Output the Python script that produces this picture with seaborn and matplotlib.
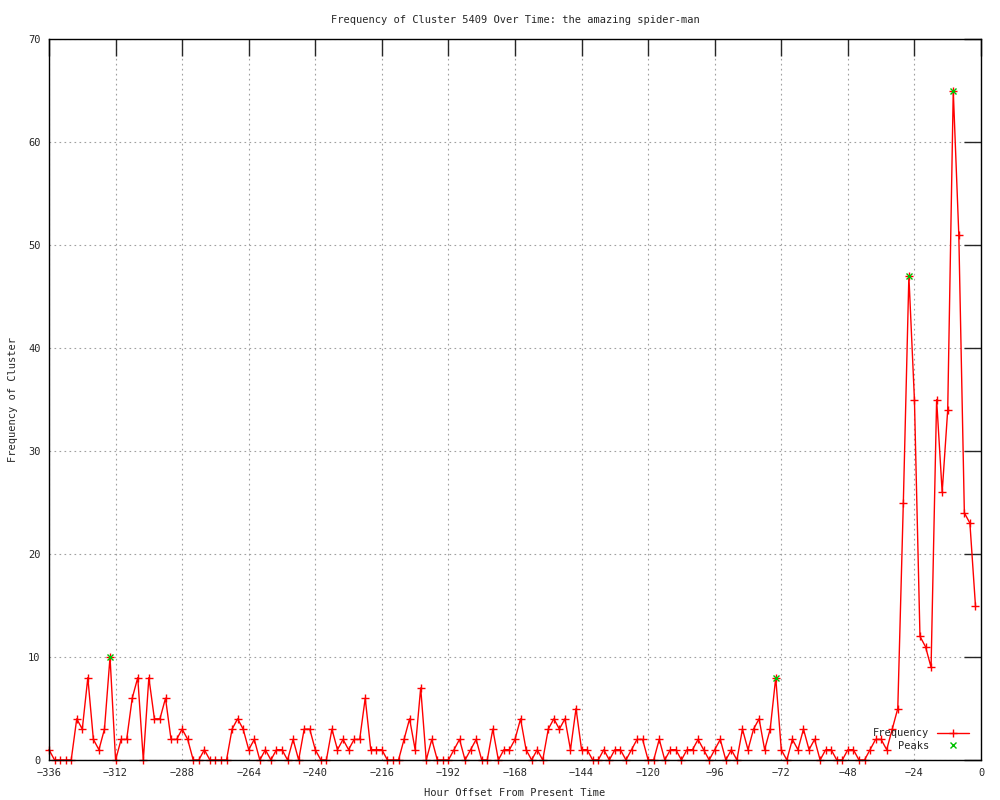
import matplotlib
matplotlib.use("Agg")
import matplotlib.pyplot as plt
import seaborn as sns
import pandas as pd

# -------------------------------------------------------------------------
# Дані: частота кластера по годинах (крок 2 години)
# -------------------------------------------------------------------------
hours = list(range(-336, 0, 2))
freq = [1, 0, 0, 0, 0, 4, 3, 8, 2, 1, 3, 10, 0, 2, 2, 6, 8, 0, 8, 4,
        4, 6, 2, 2, 3, 2, 0, 0, 1, 0, 0, 0, 0, 3, 4, 3, 1, 2, 0, 1,
        0, 1, 1, 0, 2, 0, 3, 3, 1, 0, 0, 3, 1, 2, 1, 2, 2, 6, 1, 1,
        1, 0, 0, 0, 2, 4, 1, 7, 0, 2, 0, 0, 0, 1, 2, 0, 1, 2, 0, 0,
        3, 0, 1, 1, 2, 4, 1, 0, 1, 0, 3, 4, 3, 4, 1, 5, 1, 1, 0, 0,
        1, 0, 1, 1, 0, 1, 2, 2, 0, 0, 2, 0, 1, 1, 0, 1, 1, 2, 1, 0,
        1, 2, 0, 1, 0, 3, 1, 3, 4, 1, 3, 8, 1, 0, 2, 1, 3, 1, 2, 0,
        1, 1, 0, 0, 1, 1, 0, 0, 1, 2, 2, 1, 3, 5, 25, 47, 35, 12, 11, 9,
        35, 26, 34, 65, 51, 24, 23, 15]

peak_hours = [-314, -74, -26, -10]
peak_freq = [10, 8, 47, 65]

df = pd.DataFrame({"Hour": hours, "Frequency": freq})
peaks = pd.DataFrame({"Hour": peak_hours, "Frequency": peak_freq})

sns.set_style("white")
plt.rcParams['font.family'] = ['DejaVu Sans Mono']
plt.rcParams['font.size'] = 7.5

fig = plt.figure(figsize=(10, 8), dpi=100)
ax = fig.add_axes([0.049, 0.05, 0.932, 0.901])

sns.lineplot(data=df, x="Hour", y="Frequency", ax=ax, color="red", linewidth=1.0,
             marker="+", markersize=5.5, markeredgewidth=1.0, markeredgecolor="red",
             label="Frequency", clip_on=False, zorder=3)
ax.plot(peaks["Hour"], peaks["Frequency"], linestyle="none", marker="x",
        markersize=5, markeredgewidth=1.0, color="#00c000", label="Peaks",
        clip_on=False, zorder=4)

ax.set_xlim(-336, 0)
ax.set_ylim(0, 70)
ax.set_xticks(range(-336, 1, 24))
ax.set_yticks(range(0, 71, 10))
ax.grid(True, color="#a0a0a0", linestyle=(0, (1.5, 3)), linewidth=0.8)
ax.tick_params(direction="in", length=12, width=1, top=True, right=True,
               labelsize=7.5, pad=6)
for s in ax.spines.values():
    s.set_color("black")
    s.set_linewidth(1.0)
    s.set_zorder(5)

ax.set_title("Frequency of Cluster 5409 Over Time: the amazing spider-man",
             fontsize=7.5, pad=12)
ax.set_xlabel("Hour Offset From Present Time", fontsize=7.5, labelpad=7)
ax.set_ylabel("Frequency of Cluster", fontsize=7.5, labelpad=7)

ax.legend(loc="lower right", bbox_to_anchor=(0.994, 0.004), frameon=False,
          markerfirst=False, handlelength=3.1, handletextpad=0.7,
          labelspacing=0.25, fontsize=7.5, borderaxespad=0.2)

plt.savefig("out.png", dpi=100)
